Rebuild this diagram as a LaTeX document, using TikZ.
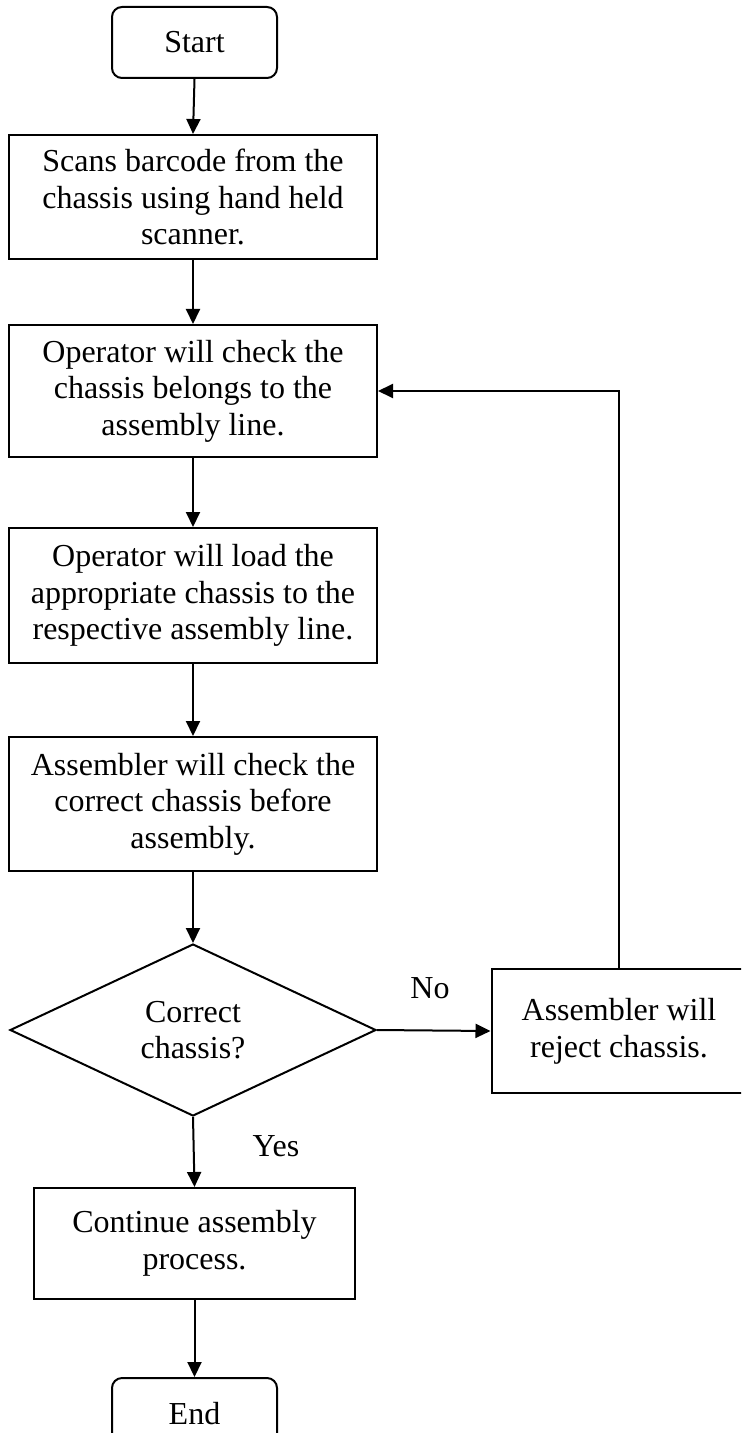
\documentclass[tikz,border=0pt]{standalone}
\usepackage{fontspec}
\setmainfont{Liberation Serif}
\usetikzlibrary{shapes.geometric,arrows.meta}

\tikzset{
  base/.style={draw=black, line width=1pt, align=center, inner sep=0pt,
               font=\fontsize{16}{18.3}\selectfont},
  procbox/.style={base, rectangle},
  termbox/.style={base, rectangle, rounded corners=5pt,
                  minimum width=82.5pt, minimum height=35.5pt},
  decbox/.style={base, diamond, minimum width=183pt, minimum height=86pt},
  flow/.style={line width=1pt, -{Triangle[width=7pt,length=7.5pt]}},
  lbl/.style={font=\fontsize{16}{18.3}\selectfont, inner sep=0pt}
}

\begin{document}
\begin{tikzpicture}[x=0.5pt,y=-0.5pt]
  \useasboundingbox (0,0) rectangle (741,1433);
  \clip (0,0) rectangle (741,1433);

  % terminals
  \node[termbox] (start) at (194.5,42.5) {Start};
  \node[termbox] (stop)  at (194.5,1413.5) {End};

  % process steps
  \node[procbox, minimum width=184pt, minimum height=62pt] (scan) at (193,197)
    {Scans barcode from the\\chassis using hand held\\scanner.};
  \node[procbox, minimum width=184pt, minimum height=66pt] (check) at (193,391)
    {Operator will check the\\chassis belongs to the\\assembly line.};
  \node[procbox, minimum width=184pt, minimum height=67.5pt] (load) at (193,595.5)
    {Operator will load the\\appropriate chassis to the\\respective assembly line.};
  \node[procbox, minimum width=184pt, minimum height=67pt] (verify) at (193,804)
    {Assembler will check the\\correct chassis before\\assembly.};

  % decision
  \node[decbox] (dec) at (193,1030) {Correct\\chassis?};

  % outcomes
  \node[procbox, minimum width=127.5pt, minimum height=62pt] (reject) at (619,1031)
    {Assembler will\\reject chassis.};
  \node[procbox, minimum width=160.5pt, minimum height=55.5pt] (cont) at (194.5,1243.5)
    {Continue assembly\\process.};

  % branch labels
  \node[lbl] (nolbl)  at (430,988)  {No};
  \node[lbl] (yeslbl) at (276,1146) {Yes};

  % connectors
  \draw[flow] (start.south) -- (scan.north);
  \draw[flow] (scan.south) -- (check.north);
  \draw[flow] (check.south) -- (load.north);
  \draw[flow] (load.south) -- (verify.north);
  \draw[flow] (verify.south) -- (dec.north);
  \draw[flow] (dec.east) -- (reject.west);
  \draw[flow] (reject.north) |- (check.east);
  \draw[flow] (dec.south) -- (cont.north);
  \draw[flow] (cont.south) -- (stop.north);
\end{tikzpicture}
\end{document}
